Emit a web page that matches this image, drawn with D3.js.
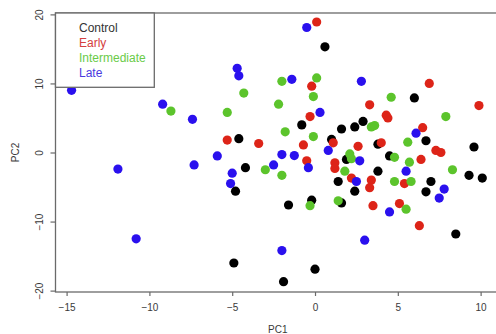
<!DOCTYPE html>
<html>
<head>
<meta charset="utf-8">
<script src="https://cdn.jsdelivr.net/npm/d3@7"></script>
<style>
  html, body { margin: 0; padding: 0; background: #fff; }
  svg { display: block; font-family: "Liberation Sans", Arial, Helvetica, sans-serif; }
</style>
</head>
<body>
<div id="pca"></div>
<script>
// PC1 / PC2 scores per group
const control = [
  [-4.6, 2.0], [-4.2, -2.2], [-4.8, -5.6], [-4.9, -16.0], [0.6, 15.3], [6.0, 7.9],
  [2.9, 4.5], [-0.8, 4.0], [1.6, 3.4], [2.4, 3.7], [1.0, 1.9], [3.8, 1.2],
  [6.7, 1.7], [9.6, 0.8], [1.9, -1.0], [4.5, -0.5], [3.8, -2.7], [9.3, -3.3],
  [10.1, -3.7], [1.4, -4.2], [7.0, -4.2], [2.4, -5.6], [6.7, -5.7], [-1.6, -7.6],
  [-0.2, -6.9], [1.6, -7.3], [8.5, -11.8], [0.0, -16.9], [-1.9, -18.7]
];
const early = [
  [-5.3, 1.8], [-3.4, 1.3], [0.1, 18.9], [-0.2, 9.6], [6.9, 10.0], [3.3, 6.9],
  [9.9, 6.8], [-0.3, 5.2], [4.3, 5.4], [4.4, 5.0], [6.5, 3.6], [1.1, 1.4],
  [4.0, 1.4], [-0.7, 1.1], [2.6, 0.9], [7.3, 0.3], [7.6, 0.0], [6.4, -1.0],
  [-0.5, -1.2], [1.2, -1.5], [1.2, -2.3], [2.2, -3.7], [3.4, -4.0], [3.3, -5.1],
  [5.4, -4.5], [3.5, -7.7], [5.1, -7.4], [6.3, -10.6]
];
const intermediate = [
  [-4.3, 8.6], [-8.7, 6.0], [-5.3, 5.8], [-3.0, -2.5], [-2.0, 10.3], [0.1, 10.8],
  [-0.1, 8.1], [-2.2, 7.0], [4.6, 8.0], [7.9, 5.2], [3.4, 3.7], [3.6, 3.9],
  [-1.8, 3.0], [-0.1, 2.3], [5.6, 1.5], [2.1, -0.2], [2.2, -0.9], [4.8, -0.7],
  [5.7, -1.4], [1.8, -2.7], [8.3, -2.5], [-2.0, -3.3], [4.8, -4.2], [5.8, -4.2],
  [-0.3, -7.7], [1.4, -7.0], [5.5, -8.2]
];
const late = [
  [-14.7, 9.0], [-4.7, 12.2], [-4.6, 11.1], [-9.2, 7.0], [-7.4, 4.8], [-5.9, -0.5],
  [-11.9, -2.4], [-7.3, -1.8], [-5.0, -3.0], [-5.1, -4.5], [-10.8, -12.5], [-2.5, -1.8],
  [-0.5, 18.1], [-1.4, 10.6], [2.8, 10.3], [0.3, 5.8], [6.1, 2.8], [-2.0, -0.3],
  [-1.25, -0.45], [0.8, 0.3], [2.7, -1.2], [-0.4, -2.2], [5.5, -2.7], [2.5, -4.2],
  [7.8, -5.3], [7.5, -6.6], [4.5, -8.6], [3.0, -12.7], [-2.0, -14.2]
];

const groups = ['Control', 'Early', 'Intermediate', 'Late'];
const groupData = [control, early, intermediate, late];
const pointColors = ['#000000', '#dd2418', '#5cc42c', '#2a10ee'];
const textColors = ['#333333', '#d44040', '#6acb48', '#4a3ae0'];

const xTicks = [-15, -10, -5, 0, 5, 10];
const yTicks = [-20, -10, 0, 10, 20];

const width = 496;
const height = 334;
const box = { left: 55.5, right: 500, top: 13, bottom: 292 };

const svg = d3
  .select('#pca')
  .append('svg')
  .attr('width', width)
  .attr('height', height);

const x = d3.scaleLinear().domain([-15.67, 11.17]).range([box.left, box.right]);
const y = d3.scaleLinear().domain([-20.2, 20.2]).range([box.bottom, box.top]);

// points
groupData.forEach((pts, i) => {
  svg
    .append('g')
    .attr('fill', pointColors[i])
    .selectAll('circle')
    .data(pts)
    .join('circle')
    .attr('cx', (d) => x(d[0]))
    .attr('cy', (d) => y(d[1]))
    .attr('r', 4.6);
});

// frame
svg
  .append('rect')
  .attr('x', box.left)
  .attr('y', box.top)
  .attr('width', box.right - box.left)
  .attr('height', box.bottom - box.top)
  .attr('fill', 'none')
  .attr('stroke', '#6a6a6a')
  .attr('stroke-width', 1.3);

// axes (R style: ticks outside the frame)
const xAxis = svg
  .append('g')
  .attr('transform', `translate(0,${box.bottom})`)
  .call(d3.axisBottom(x).tickValues(xTicks).tickSize(4).tickPadding(8));
xAxis.select('.domain').remove();

const yAxis = svg
  .append('g')
  .attr('transform', `translate(${box.left},0)`)
  .call(d3.axisLeft(y).tickValues(yTicks).tickSize(5));
yAxis.select('.domain').remove();

[xAxis, yAxis].forEach((g) => {
  g.selectAll('line').attr('stroke', '#6a6a6a').attr('stroke-width', 1.2);
  g.selectAll('text')
    .attr('fill', '#3a3a3a')
    .style('font-size', '10px')
    .style('font-family', '"Liberation Sans", Arial, sans-serif');
});

// y tick labels rotated like base R
yAxis
  .selectAll('text')
  .attr('x', null)
  .attr('dy', null)
  .attr('text-anchor', 'middle')
  .attr('transform', 'translate(-13,0) rotate(-90)');

// axis titles
svg
  .append('text')
  .attr('x', (box.left + box.right) / 2)
  .attr('y', 332.5)
  .attr('text-anchor', 'middle')
  .attr('fill', '#3a3a3a')
  .style('font-size', '10px')
  .text('PC1');

svg
  .append('text')
  .attr('transform', `translate(18.5,${y(0)}) rotate(-90)`)
  .attr('text-anchor', 'middle')
  .attr('fill', '#3a3a3a')
  .style('font-size', '10px')
  .text('PC2');

// legend
const legend = svg.append('g');
legend
  .append('rect')
  .attr('x', box.left)
  .attr('y', box.top)
  .attr('width', 98.8)
  .attr('height', 74.3)
  .attr('fill', '#fff')
  .attr('stroke', '#6a6a6a')
  .attr('stroke-width', 1.3);

legend
  .selectAll('text')
  .data(groups)
  .join('text')
  .attr('x', 79)
  .attr('y', (d, i) => 32.3 + i * 14.8)
  .attr('fill', (d, i) => textColors[i])
  .style('font-size', '12px')
  .text((d) => d);
</script>
</body>
</html>
